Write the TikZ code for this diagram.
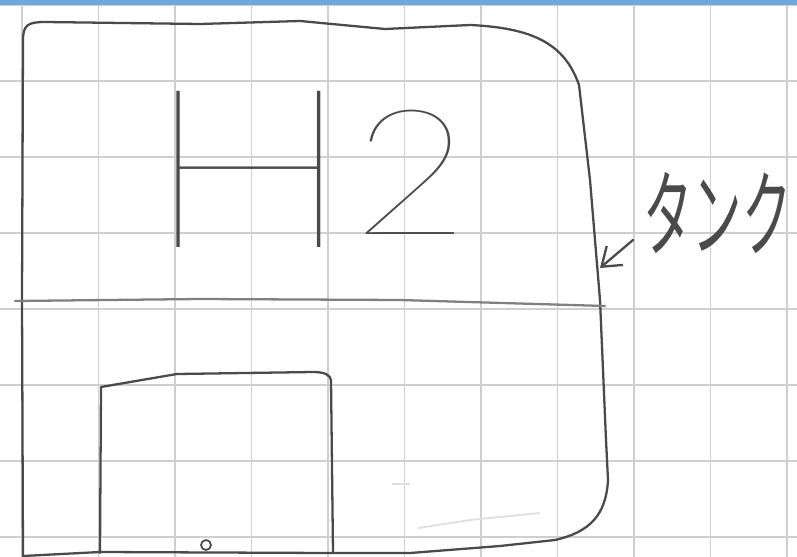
\documentclass[tikz,border=0pt]{standalone}
\usepackage{fontspec}
\usetikzlibrary{arrows.meta,positioning}
\newfontfamily\penfont{Lato Hairline}
\newfontfamily\kanafont{Noto Sans CJK JP}
\definecolor{ink}{HTML}{4A4A4A}
\definecolor{gridgray}{HTML}{CFCFCF}
\definecolor{paperblue}{HTML}{6FA8E0}

\begin{document}
\begin{tikzpicture}[
            x=0.02cm, y=-0.02cm,
            gridline/.style={draw=gridgray, line width=0.8pt},
            pen/.style={draw=ink, line width=1.3pt, line cap=round, line join=round},
            faint/.style={draw=gray!25, line width=1pt},
            arrow/.style={-{Straight Barb[length=3.5mm, width=5mm]}, pen}
        ]
        \useasboundingbox[fill=white] (0,0) rectangle (797,557);
        % squared paper
        \foreach \gx in {0,...,10}
            \draw[gridline] (22+76.5*\gx,0) -- (22+76.5*\gx,557);
        \foreach \gy in {0,...,7}
            \draw[gridline] (0,5+76*\gy) -- (797,5+76*\gy);
        \fill[paperblue] (0,0) rectangle (797,5);
        % tank
        \draw[pen] (23,556) -- (22,300) -- (23,40) .. controls (23,25) and (28,22) .. (45,22) -- (200,24) -- (300,21) -- (385,29) -- (470,25) .. controls (535,28) and (565,45) .. (579,85) -- (590,180) -- (600,300) -- (606,440) -- (608,480) .. controls (606,515) and (590,532) .. (555,540) -- (500,546) -- (410,553) -- (330,553) -- (100,552) -- cycle;
        \draw[pen, draw=ink!70] (15,301) -- (200,299) -- (400,300) -- (605,306);
        \draw[pen] (100,553) -- (101,387) -- (177,374) -- (313,372) .. controls (325,372) and (330,375) .. (331,380) -- (333,553);
        \draw[pen, line width=1pt] (206,545) circle[radius=5];
        \draw[faint] (392,484) -- (410,484);
        \draw[faint] (418,528) -- (470,520) -- (540,513);
        % labels
        \node[anchor=base west, inner sep=0pt, text=ink] (formula) at (144,247) {\penfont\fontsize{127}{127}\selectfont\scalebox{1.25}[1]{H}\raisebox{0.25cm}{\fontsize{100}{100}\selectfont\scalebox{1.15}[1]{2}}};
        \node[anchor=south west, inner sep=0pt, text=ink, font=\kanafont\fontsize{54}{54}\selectfont] (tank) at (643,254) {\scalebox{0.52}[1]{タンク}};
        \coordinate (wall) at (600,268);
        \draw[arrow] ([shift={(-10,-14)}]tank.south west) -- (wall);
\end{tikzpicture}
\end{document}
